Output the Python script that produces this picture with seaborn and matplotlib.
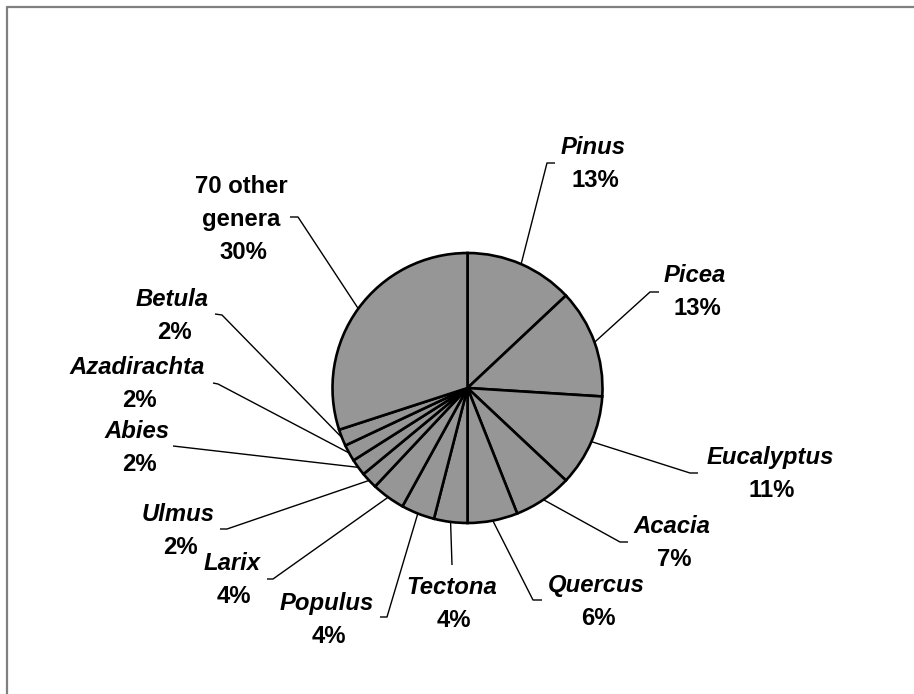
import numpy as np
import matplotlib
matplotlib.use("Agg")
import matplotlib.pyplot as plt
from matplotlib.lines import Line2D
import seaborn as sns

# ── Data ──────────────────────────────────────────────────────────────────────
GENERA = ["Pinus", "Picea", "Eucalyptus", "Acacia", "Quercus", "Tectona",
          "Populus", "Larix", "Ulmus", "Abies", "Azadirachta", "Betula",
          "70 other\ngenera"]
SHARES = [13, 13, 11, 7, 6, 4, 4, 4, 2, 2, 2, 2, 30]
ITALIC = [True] * 12 + [False]

# ── Layout (image pixel coords, y down) ───────────────────────────────────────
W, H = 914, 694
CX, CY, R = 467.5, 388, 135
LINE = 33
# label: centre x, baseline of first line
LABEL_POS = [(593, 154), (695, 282), (770, 464), (672, 533), (596, 592),
             (452, 594), (327, 610), (232, 570), (178, 521), (137, 438),
             (137, 374), (172, 306), (241, 193)]
# leader: end of slanted part, end of short hook
LEADER_END = [(547, 163), (650, 292), (690, 473), (620, 542), (533, 600),
              (452, 565), (387, 617), (273, 579), (227, 529), (173, 446),
              (218, 384), (222, 315), (298, 217)]
HOOK_END = [(555, 163), (659, 292), (698, 473), (628, 542), (542, 600),
            (452, 565), (380, 617), (267, 579), (220, 529), (173, 446),
            (213, 383), (215, 314), (290, 217)]

sns.set_theme(style="white")
plt.rcParams["font.family"] = ["Liberation Sans", "DejaVu Sans"]

fig = plt.figure(figsize=(W / 100, H / 100), dpi=100)
ax = fig.add_axes([0, 0, 1, 1])

# y axis runs downwards, so counterclock in data = clockwise on screen
wedges, _ = ax.pie(
    SHARES, center=(CX, CY), radius=R, startangle=-90, counterclock=True,
    colors=["#969696"] * len(SHARES),
    wedgeprops=dict(edgecolor="black", linewidth=1.9),
)
ax.set_xlim(0, W)
ax.set_ylim(H, 0)
ax.set_aspect("equal")
ax.axis("off")

for w, name, val, italic, (lx, ly), (ex, ey), (hx, hy) in zip(
        wedges, GENERA, SHARES, ITALIC, LABEL_POS, LEADER_END, HOOK_END):
    mid = np.deg2rad((w.theta1 + w.theta2) / 2)
    px, py = CX + R * np.cos(mid), CY + R * np.sin(mid)
    ax.plot([px, ex, hx], [py, ey, hy], color="black", lw=1.0,
            solid_capstyle="butt", zorder=1)
    lines = name.split("\n") + [f"{val}%"]
    for k, txt in enumerate(lines):
        is_name = k < len(lines) - 1
        ax.text(lx + (0 if is_name else 2), ly + k * LINE, txt,
                ha="center", va="baseline", fontsize=17.2, fontweight="bold",
                fontstyle="italic" if (italic and is_name) else "normal",
                color="black")

# frame (top and left edges only)
fig.add_artist(Line2D([7 / W, 1], [1 - 7 / H, 1 - 7 / H],
                      transform=fig.transFigure, color="#808080", lw=1.6))
fig.add_artist(Line2D([7 / W, 7 / W], [0, 1 - 7 / H],
                      transform=fig.transFigure, color="#808080", lw=1.6))

fig.savefig("out.png", dpi=100, facecolor="white")
